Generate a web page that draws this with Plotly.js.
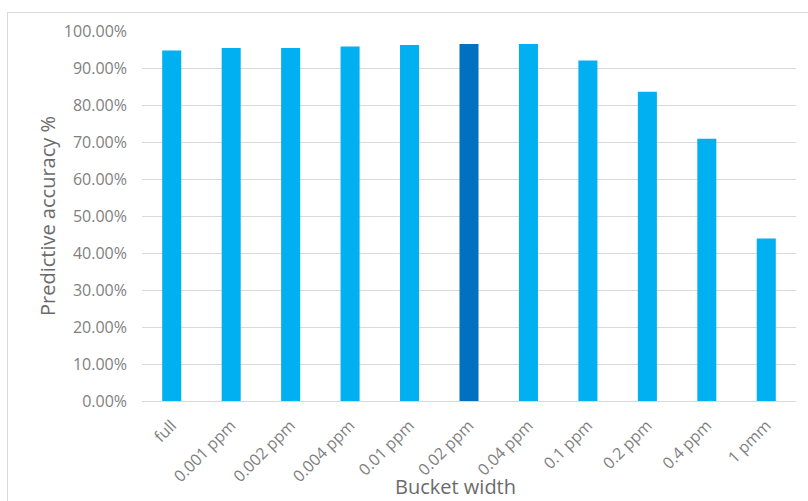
<!DOCTYPE html>
<html>
<head>
<meta charset="utf-8">
<script src="https://cdn.plot.ly/plotly-3.0.1.min.js"></script>
<style>
  html, body { margin: 0; padding: 0; background: #ffffff; }
  #wrap { position: relative; width: 808px; height: 501px; overflow: hidden; }
  #chart { width: 808px; height: 501px; }
  #frame {
    position: absolute; left: 7px; top: 12px; width: 830px; height: 520px;
    border: 1px solid #d9d9d9; pointer-events: none; box-sizing: border-box;
  }
</style>
</head>
<body>
<div id="wrap">
  <div id="chart"></div>
  <div id="frame"></div>
</div>
<script>
// Bucket widths and the predictive accuracy measured at each one
const bucketWidths = ['full', '0.001 ppm', '0.002 ppm', '0.004 ppm', '0.01 ppm',
  '0.02 ppm', '0.04 ppm', '0.1 ppm', '0.2 ppm', '0.4 ppm', '1 pmm'];
const accuracy = [0.947, 0.954, 0.954, 0.958, 0.962, 0.965, 0.965, 0.920, 0.836, 0.709, 0.439];
// The chosen bucket width is drawn in a darker blue
const highlighted = '0.02 ppm';
const xTitle = 'Bucket width';
const yTitle = 'Predictive accuracy %';

const barColors = bucketWidths.map(b => b === highlighted ? '#0070c0' : '#00b0f0');

const tickFont = { family: 'Open Sans, sans-serif', size: 16, color: '#7f7f7f' };
const titleFont = { family: 'Open Sans, sans-serif', size: 20, color: '#6b6b6b' };

const trace = {
  type: 'bar',
  x: bucketWidths,
  y: accuracy,
  marker: { color: barColors, line: { width: 0 } },
  hoverinfo: 'x+y'
};

const layout = {
  width: 808,
  height: 501,
  margin: { l: 142, r: 12, t: 31, b: 100 },
  paper_bgcolor: '#ffffff',
  plot_bgcolor: '#ffffff',
  showlegend: false,
  bargap: 0.68,
  font: tickFont,
  xaxis: {
    type: 'category',
    tickangle: -45,
    showline: true,
    linecolor: '#d9d9d9',
    linewidth: 1,
    ticks: '',
    showgrid: false,
    ticklabelstandoff: 8,
    tickfont: tickFont,
    automargin: false
  },
  yaxis: {
    range: [0, 1],
    dtick: 0.1,
    tickformat: '.2%',
    showgrid: true,
    gridcolor: '#d9d9d9',
    gridwidth: 1,
    zeroline: false,
    showline: false,
    ticks: '',
    ticklabelstandoff: 14,
    tickfont: tickFont,
    automargin: false,
    title: { text: yTitle, font: titleFont, standoff: 2 }
  },
  annotations: [{
    text: xTitle,
    xref: 'paper', yref: 'paper',
    x: 0.48, y: -0.232,
    xanchor: 'center', yanchor: 'middle',
    showarrow: false,
    font: titleFont
  }]
};

Plotly.newPlot('chart', [trace], layout, { displayModeBar: false, staticPlot: true });
</script>
</body>
</html>
